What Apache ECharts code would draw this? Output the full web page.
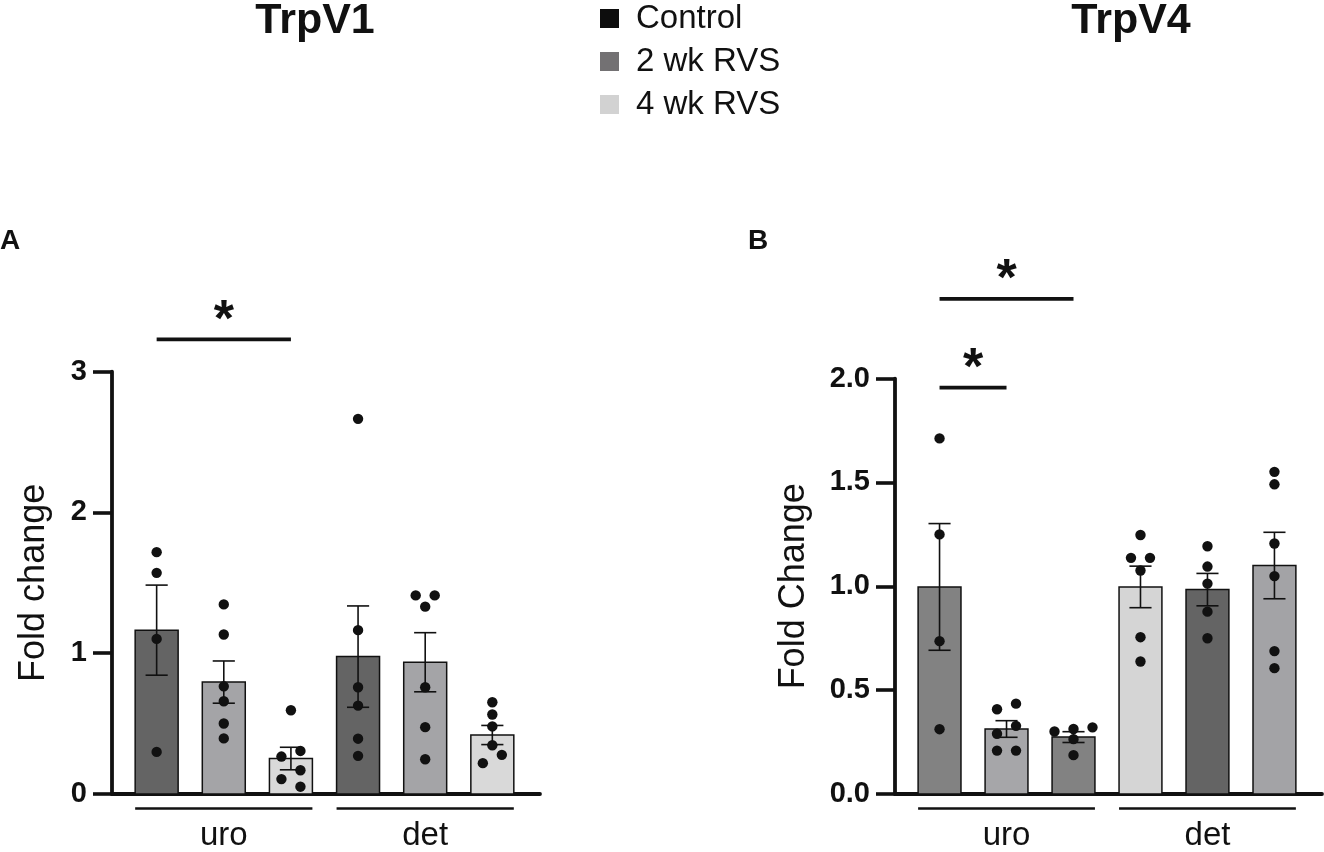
<!DOCTYPE html>
<html>
<head>
<meta charset="utf-8">
<title>TrpV1 / TrpV4</title>
<script src="https://cdn.jsdelivr.net/npm/echarts@6.0.0/dist/echarts.min.js"></script>
<style>
  html, body { margin: 0; padding: 0; background: #fff; }
  #mychart { width: 1324px; height: 852px; }
</style>
</head>
<body>
<div id="mychart"></div>
<script>
// ---- data ----
const groups = ['uro', 'det'];
const groupBars = [[0, 2], [3, 5]]; // first / last bar of each group
const legendNames = ['Control', '2 wk RVS', '4 wk RVS'];

// A: TrpV1
const trpv1Ticks = [0, 1, 2, 3];
const trpv1Mean = [1.164, 0.795, 0.252, 0.976, 0.936, 0.419];
const trpv1Sem = [0.32, 0.15, 0.08, 0.36, 0.21, 0.068];
const trpv1Points = [
  [1.718, 1.571, 1.102, 0.299],
  [1.347, 1.133, 0.765, 0.659, 0.501, 0.395],
  [0.595, 0.306, 0.266, 0.169, 0.106, 0.052],
  [2.665, 1.164, 0.758, 0.628, 0.393, 0.271],
  [1.411, 1.411, 1.331, 0.758, 0.475, 0.247],
  [0.652, 0.565, 0.48, 0.346, 0.278, 0.219],
];
const trpv1Sig = [[0, 2, 3.23]]; // from bar, to bar, height

// B: TrpV4
const trpv4Ticks = [0, 0.5, 1, 1.5, 2];
const trpv4Mean = [0.997, 0.313, 0.274, 0.997, 0.984, 1.1];
const trpv4Sem = [0.305, 0.04, 0.026, 0.1, 0.078, 0.16];
const trpv4Points = [
  [1.712, 1.25, 0.736, 0.312],
  [0.435, 0.408, 0.328, 0.29, 0.209, 0.209],
  [0.321, 0.313, 0.301, 0.264, 0.187],
  [1.247, 1.137, 1.137, 1.076, 0.755, 0.638],
  [1.193, 1.095, 1.013, 0.878, 0.75],
  [1.551, 1.491, 1.206, 1.049, 0.688, 0.606],
];
const trpv4Sig = [[0, 2, 2.384], [0, 1, 1.957]];

// ---- styles ----
const font = "'Liberation Sans', Arial, Helvetica, sans-serif";
const ink = '#111';
const colors = {
  legend: ['#0d0d0d', '#737173', '#d2d2d2'],
  trpv1: ['#646464', '#a4a4a7', '#d9d9d9', '#646464', '#a4a4a7', '#d9d9d9'],
  trpv4: ['#828282', '#a6a6a9', '#828282', '#d5d5d5', '#646464', '#a3a3a6'],
};
const BAR_W = 0.64; // share of one bar slot
const CAP_W = 0.33;
const DOT_R = 5.2;

// bar + error bar
function barRenderer(barColors) {
  return function (params, api) {
    const i = api.value(0);
    const mean = api.value(1);
    const sem = api.value(2);
    const step = api.size([1, 0])[0];
    const w = step * BAR_W;
    const cap = step * CAP_W;
    const top = api.coord([i, mean]);
    const base = api.coord([i, 0]);
    const hi = api.coord([i, mean + sem])[1];
    const lo = api.coord([i, mean - sem])[1];
    const cx = top[0];
    const line = { stroke: ink, lineWidth: 1.6 };
    return {
      type: 'group',
      children: [
        {
          type: 'rect',
          shape: { x: cx - w / 2, y: top[1], width: w, height: base[1] - top[1] },
          style: { fill: barColors[i], stroke: ink, lineWidth: 1.5 },
        },
        { type: 'line', shape: { x1: cx, y1: hi, x2: cx, y2: lo }, style: line },
        { type: 'line', shape: { x1: cx - cap / 2, y1: hi, x2: cx + cap / 2, y2: hi }, style: line },
        { type: 'line', shape: { x1: cx - cap / 2, y1: lo, x2: cx + cap / 2, y2: lo }, style: line },
      ],
    };
  };
}

// spread dots that sit close together, Prism style
function dotOffsets(ys) {
  const rows = [];
  ys.forEach((y, k) => {
    if (k > 0 && y - ys[k - 1] < 6) rows[rows.length - 1].push(k);
    else rows.push([k]);
  });
  const dx = new Array(ys.length).fill(0);
  // rows with several dots side by side
  rows.forEach((r) => {
    if (r.length > 1) {
      r.forEach((k, j) => {
        dx[k] = ((r.length - 1) / 2 - j) * 19;
      });
    }
  });
  // single dots close to each other zig-zag
  let chain = [];
  const flush = () => {
    if (chain.length > 1) chain.forEach((k, j) => (dx[k] = j % 2 ? -9.5 : 9.5));
    chain = [];
  };
  rows.forEach((r) => {
    if (r.length !== 1) {
      flush();
      return;
    }
    const k = r[0];
    if (chain.length && ys[k] - ys[chain[chain.length - 1]] < 9) chain.push(k);
    else {
      flush();
      chain.push(k);
    }
  });
  flush();
  return dx;
}

function dotRenderer(points) {
  return function (params, api) {
    const i = api.value(0);
    const vals = points[i].slice().sort((a, b) => b - a);
    const pos = vals.map((v) => api.coord([i, v]));
    const dx = dotOffsets(pos.map((p) => p[1]));
    return {
      type: 'group',
      children: pos.map((p, k) => ({
        type: 'circle',
        shape: { cx: p[0] + dx[k], cy: p[1], r: DOT_R },
        style: { fill: ink },
      })),
    };
  };
}

// line under each group of bars
function groupLineRenderer(params, api) {
  const step = api.size([1, 0])[0];
  const w = step * BAR_W;
  const a = api.coord([api.value(0), 0]);
  const b = api.coord([api.value(1), 0]);
  return {
    type: 'line',
    shape: { x1: a[0] - w / 2, y1: a[1] + 14.5, x2: b[0] + w / 2, y2: a[1] + 14.5 },
    style: { stroke: ink, lineWidth: 2.6 },
  };
}

// significance bar with star
function sigRenderer(params, api) {
  const a = api.coord([api.value(0), api.value(2)]);
  const b = api.coord([api.value(1), api.value(2)]);
  return {
    type: 'group',
    children: [
      {
        type: 'line',
        shape: { x1: a[0], y1: a[1], x2: b[0], y2: b[1] },
        style: { stroke: ink, lineWidth: 3.8 },
      },
      {
        type: 'text',
        x: (a[0] + b[0]) / 2,
        y: a[1] - 18,
        style: {
          text: '*',
          fill: ink,
          font: 'bold 52px ' + font,
          align: 'center',
          verticalAlign: 'middle',
        },
      },
    ],
  };
}

function panelAxes(gridIndex, ticks, name, nameGap, fmt) {
  const xAxis = {
    gridIndex,
    type: 'value',
    min: -0.665,
    max: 5.71,
    axisLine: { show: true, onZero: false, lineStyle: { color: ink, width: 3.8 } },
    axisTick: { show: false },
    splitLine: { show: false },
    axisLabel: {
      customValues: groupBars.map((g) => (g[0] + g[1]) / 2),
      formatter: (v) => groups[groupBars.findIndex((g) => (g[0] + g[1]) / 2 === v)] || '',
      margin: 25,
      color: ink,
      fontSize: 33,
      fontFamily: font,
    },
  };
  const yAxis = {
    gridIndex,
    type: 'value',
    min: ticks[0],
    max: ticks[ticks.length - 1],
    interval: ticks[1] - ticks[0],
    name,
    nameLocation: 'middle',
    nameGap,
    nameTextStyle: { color: ink, fontSize: 36, fontFamily: font },
    axisLine: { show: true, onZero: false, lineStyle: { color: ink, width: 3.8 } },
    axisTick: { show: true, length: 19, lineStyle: { color: ink, width: 3.6 } },
    splitLine: { show: false },
    axisLabel: {
      margin: 25,
      color: ink,
      fontSize: 29,
      fontWeight: 'bold',
      fontFamily: font,
      formatter: fmt,
    },
  };
  return { xAxis, yAxis };
}

function panelSeries(idx, mean, sem, points, sig, barColors) {
  const axes = { xAxisIndex: idx, yAxisIndex: idx };
  return [
    Object.assign({
      type: 'custom',
      clip: false,
      renderItem: barRenderer(barColors),
      encode: { x: 0, y: 1 },
      data: mean.map((m, i) => [i, m, sem[i]]),
      silent: true,
    }, axes),
    Object.assign({
      type: 'custom',
      clip: false,
      renderItem: dotRenderer(points),
      encode: { x: 0, y: 1 },
      data: points.map((p, i) => [i, Math.max.apply(null, p)]),
      silent: true,
      z: 4,
    }, axes),
    Object.assign({
      type: 'custom',
      clip: false,
      renderItem: groupLineRenderer,
      encode: { x: [0, 1] },
      data: groupBars.map((g) => [g[0], g[1]]),
      silent: true,
    }, axes),
    Object.assign({
      type: 'custom',
      clip: false,
      renderItem: sigRenderer,
      encode: { x: [0, 1], y: 2 },
      data: sig,
      silent: true,
    }, axes),
  ];
}

let myChart;

function initChart() {
  myChart = echarts.init(document.getElementById('mychart'), null, { renderer: 'canvas' });

  const a = panelAxes(0, trpv1Ticks, 'Fold change', 60, (v) => String(v));
  const b = panelAxes(1, trpv4Ticks, 'Fold Change', 83, (v) => v.toFixed(1));

  const legendSeries = legendNames.map((n, k) => ({
    name: n,
    type: 'bar',
    xAxisIndex: 0,
    yAxisIndex: 0,
    data: [],
    itemStyle: { color: colors.legend[k] },
  }));

  const option = {
    animation: false,
    backgroundColor: '#fff',
    textStyle: { fontFamily: font },
    title: [
      { text: 'TrpV1', left: 315, top: 0, textAlign: 'center', padding: 0,
        textStyle: { fontSize: 43, fontWeight: 'bold', color: ink, fontFamily: font } },
      { text: 'TrpV4', left: 1131, top: 0, textAlign: 'center', padding: 0,
        textStyle: { fontSize: 43, fontWeight: 'bold', color: ink, fontFamily: font } },
      { text: 'A', left: 0, top: 227, padding: 0,
        textStyle: { fontSize: 28, fontWeight: 'bold', color: ink, fontFamily: font } },
      { text: 'B', left: 748, top: 227, padding: 0,
        textStyle: { fontSize: 28, fontWeight: 'bold', color: ink, fontFamily: font } },
    ],
    legend: {
      data: legendNames,
      orient: 'vertical',
      left: 600,
      top: 2,
      padding: 0,
      itemWidth: 19,
      itemHeight: 19,
      itemGap: 10,
      icon: 'rect',
      selectedMode: false,
      itemStyle: { borderWidth: 0 },
      textStyle: { fontSize: 33, color: ink, fontFamily: font, padding: [0, 0, 0, 12] },
    },
    grid: [
      { left: 112, top: 371.7, right: 784, bottom: 55.3 },
      { left: 895, top: 378.6, right: 2, bottom: 52 },
    ],
    xAxis: [a.xAxis, b.xAxis],
    yAxis: [a.yAxis, b.yAxis],
    series: legendSeries
      .concat(panelSeries(0, trpv1Mean, trpv1Sem, trpv1Points, trpv1Sig, colors.trpv1))
      .concat(panelSeries(1, trpv4Mean, trpv4Sem, trpv4Points, trpv4Sig, colors.trpv4)),
  };

  myChart.setOption(option);
}

initChart();
</script>
</body>
</html>
